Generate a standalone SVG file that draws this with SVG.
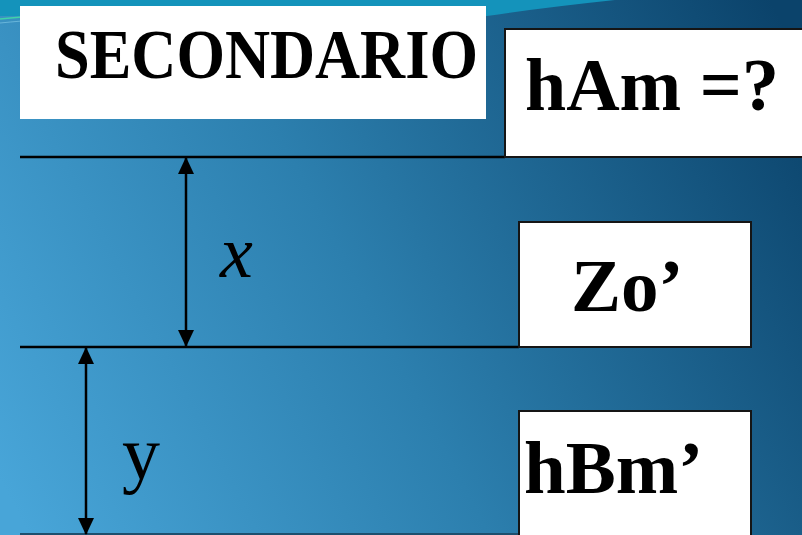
<svg xmlns="http://www.w3.org/2000/svg" width="802" height="535" viewBox="0 0 802 535">
  <defs>
    <linearGradient id="bg" gradientUnits="userSpaceOnUse" x1="0" y1="480" x2="802" y2="60">
      <stop offset="0" stop-color="#48a5d8"/>
      <stop offset="0.45" stop-color="#2c7fae"/>
      <stop offset="1" stop-color="#0b436b"/>
    </linearGradient>
    <marker id="head" viewBox="0 0 17 16" refX="16" refY="8" markerWidth="17" markerHeight="16" markerUnits="userSpaceOnUse" orient="auto-start-reverse">
      <path d="M0,0 L17,8 L0,16 Z" fill="#000"/>
    </marker>
    <style>
      .box { fill: #fff; stroke: #151515; stroke-width: 2; }
      .label { font-family: "Liberation Serif", "Times New Roman", serif; font-weight: bold; fill: #000; }
      .var { font-family: "Liberation Serif", "Times New Roman", serif; fill: #000; }
      .level { stroke: #000; stroke-width: 2.5; fill: none; }
      .dim { stroke: #000; stroke-width: 2.5; fill: none; marker-start: url(#head); marker-end: url(#head); }
    </style>
  </defs>

  <!-- background -->
  <rect x="0" y="0" width="802" height="535" fill="url(#bg)"/>
  <!-- decorative band along the top edge -->
  <path d="M0,0 L615,0 Q540,8 487,16 L0,16 Z" fill="#1493bb"/>
  <path d="M0,19 Q10,18 22,17" stroke="#3fd3a8" stroke-width="1.5" fill="none"/>
  <path d="M0,23 Q10,22 22,21" stroke="#7cc4e4" stroke-width="1" fill="none" opacity="0.7"/>

  <!-- reference levels -->
  <g id="levels">
    <line class="level" x1="20" y1="157" x2="505" y2="157"/>
    <line class="level" x1="20" y1="347" x2="519" y2="347"/>
    <line x1="20" y1="534" x2="519" y2="534" stroke="#1d4f6e" stroke-width="2"/>
  </g>

  <!-- dimension arrows -->
  <g id="connectors">
    <line class="dim" x1="186" y1="158" x2="186" y2="346"/>
    <line class="dim" x1="86" y1="348" x2="86" y2="534"/>
  </g>

  <g id="title">
    <rect x="20" y="6" width="466" height="113" fill="#fff"/>
    <text class="label" x="55" y="78" font-size="70" textLength="423" lengthAdjust="spacingAndGlyphs">SECONDARIO</text>
  </g>

  <g id="hAm">
    <rect class="box" x="505" y="29" width="300" height="128"/>
    <text class="label" x="525" y="110" font-size="74">hAm =?</text>
  </g>

  <g id="Zo">
    <rect class="box" x="519" y="222" width="232" height="125"/>
    <text class="label" x="571" y="311" font-size="75">Zo’</text>
  </g>

  <g id="hBm">
    <rect class="box" x="519" y="411" width="232" height="130"/>
    <text class="label" x="524" y="493" font-size="75">hBm’</text>
  </g>

  <g id="label-x">
    <text class="var" x="220" y="277" font-size="74" font-style="italic">x</text>
  </g>
  <g id="label-y">
    <text class="var" x="122" y="479" font-size="76">y</text>
  </g>
</svg>
